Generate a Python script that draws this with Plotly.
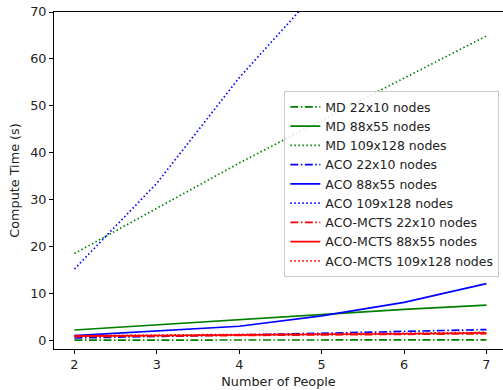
import plotly.graph_objects as go

people = [2, 3, 4, 5, 6, 7]

md_22x10 = [0.05, 0.05, 0.06, 0.07, 0.08, 0.09]
md_88x55 = [2.2, 3.3, 4.4, 5.5, 6.6, 7.5]
md_109x128 = [18.5, 28.2, 37.8, 46.9, 55.9, 64.9]

aco_22x10 = [0.5, 0.8, 1.1, 1.5, 1.9, 2.3]
aco_88x55 = [1.0, 2.0, 3.0, 5.2, 8.1, 12.1]
aco_109x128 = [15.2, 33.5, 56.0, 75.0, 95.0, 118.0]

mcts_22x10 = [0.8, 0.9, 1.0, 1.1, 1.3, 1.4]
mcts_88x55 = [0.9, 1.0, 1.1, 1.2, 1.4, 1.6]
mcts_109x128 = [1.0, 1.1, 1.2, 1.3, 1.5, 1.7]

series = [
    ("MD 22x10 nodes", md_22x10, "#008000", "dashdot"),
    ("MD 88x55 nodes", md_88x55, "#008000", "solid"),
    ("MD 109x128 nodes", md_109x128, "#008000", "dot"),
    ("ACO 22x10 nodes", aco_22x10, "#0000FF", "dashdot"),
    ("ACO 88x55 nodes", aco_88x55, "#0000FF", "solid"),
    ("ACO 109x128 nodes", aco_109x128, "#0000FF", "dot"),
    ("ACO-MCTS 22x10 nodes", mcts_22x10, "#FF0000", "dashdot"),
    ("ACO-MCTS 88x55 nodes", mcts_88x55, "#FF0000", "solid"),
    ("ACO-MCTS 109x128 nodes", mcts_109x128, "#FF0000", "dot"),
]

dash_map = {"solid": "solid", "dashdot": "8px,2.5px,1.5px,2.5px", "dot": "1.5px,2.5px"}

fig = go.Figure()
for name, vals, color, dash in series:
    fig.add_trace(go.Scatter(
        x=people, y=vals, mode="lines", name=name,
        line=dict(color=color, width=1.7, dash=dash_map[dash]),
    ))

font = dict(family="DejaVu Sans", size=12.8, color="#222222")

fig.update_layout(
    width=503, height=390,
    margin=dict(l=54, r=0, t=12, b=41),
    paper_bgcolor="white", plot_bgcolor="white",
    font=font,
    showlegend=True,
    legend=dict(
        x=0.513, y=0.765, xanchor="left", yanchor="top",
        bgcolor="rgba(255,255,255,0.85)", bordercolor="#cccccc", borderwidth=1,
        font=dict(family="DejaVu Sans", size=12.5, color="#222222"),
        tracegroupgap=0, itemwidth=30,
    ),
    xaxis=dict(
        range=[1.752, 7.201], tickvals=people, ticktext=[str(p) for p in people],
        showline=True, linecolor="black", linewidth=1, mirror=True,
        ticks="outside", ticklen=4, tickcolor="black", showgrid=False, zeroline=False,
        title=dict(text="Number of People", standoff=5, font=font),
    ),
    yaxis=dict(
        range=[-1.85, 70], tickvals=[0, 10, 20, 30, 40, 50, 60, 70],
        showline=True, linecolor="black", linewidth=1,
        ticks="outside", ticklen=4, tickcolor="black", showgrid=False, zeroline=False,
        title=dict(text="Compute Time (s)", standoff=7, font=font),
    ),
)

fig.write_html("out.html")
